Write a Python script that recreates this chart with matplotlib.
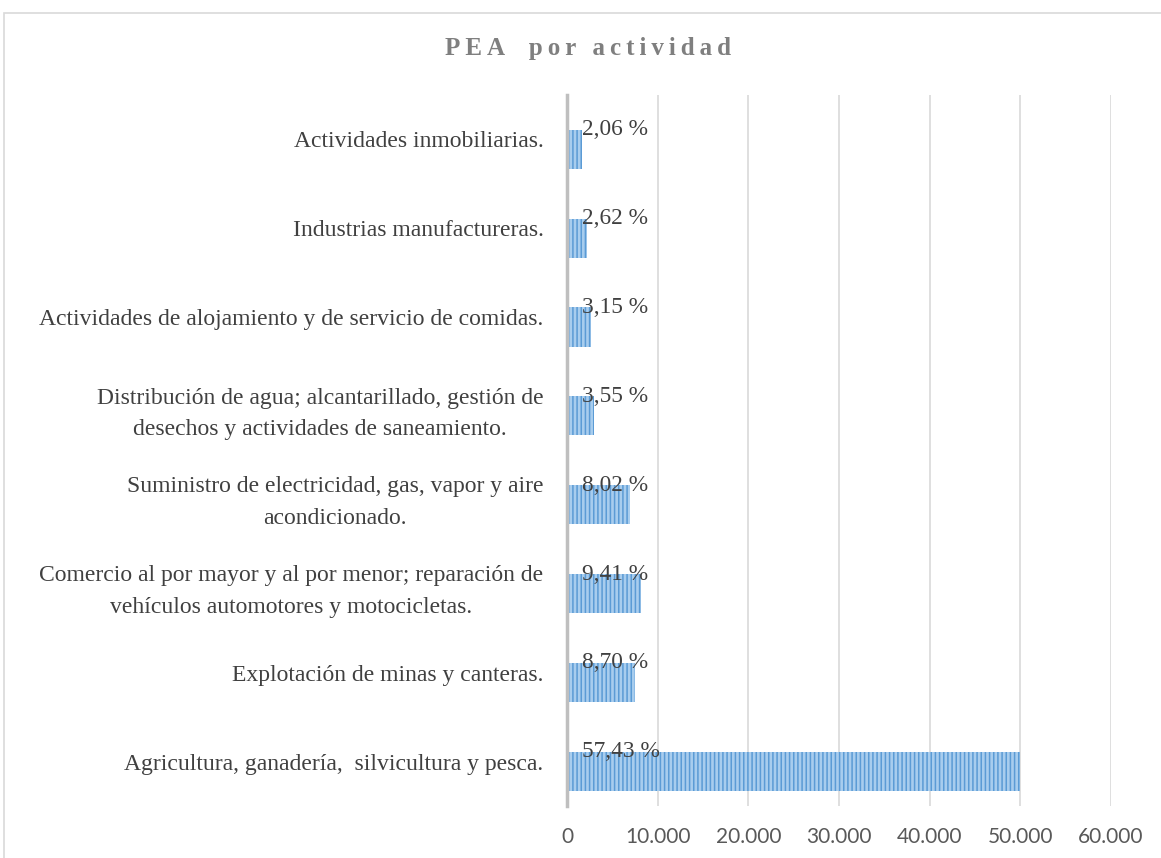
import matplotlib.pyplot as plt
from matplotlib.patches import Rectangle
from matplotlib.ticker import FuncFormatter

# categories bottom -> top
categories = [
    "Agricultura, ganadería,  silvicultura y pesca.",
    "Explotación de minas y canteras.",
    "Comercio al por mayor y al por menor; reparación de\nvehículos automotores y motocicletas.",
    "Suministro de electricidad, gas, vapor y aire\nacondicionado.",
    "Distribución de agua; alcantarillado, gestión de\ndesechos y actividades de saneamiento.",
    "Actividades de alojamiento y de servicio de comidas.",
    "Industrias manufactureras.",
    "Actividades inmobiliarias.",
]
values = [49950, 7450, 8150, 6950, 3000, 2650, 2200, 1700]
pct_labels = ["57,43 %", "8,70 %", "9,41 %", "8,02 %", "3,55 %", "3,15 %", "2,62 %", "2,06 %"]
x_ticks = [0, 10000, 20000, 30000, 40000, 50000, 60000]

plt.rcParams['hatch.linewidth'] = 1.1

fig = plt.figure(figsize=(11.61, 8.58), dpi=100)
ax = fig.add_axes([0.4884, 0.0606, 0.4686, 0.8287])

bar_h = 0.44
shift = -0.11  # bars sit a bit below the category centre, like the excel original
y = list(range(len(categories)))
ax.barh([v + shift for v in y], values, height=bar_h, color='#a8cdee', edgecolor='#5b9bd5',
        linewidth=0, hatch='||||', zorder=3)

for i, lbl in enumerate(pct_labels):
    ax.annotate(lbl, xy=(0, i + shift + bar_h / 2), xytext=(10.5, 0), textcoords='offset points',
                va='center', ha='left', fontsize=16.8, family='Liberation Serif',
                color='#404040', zorder=4)

ax.set_xlim(0, 60000)
ax.set_ylim(-0.5, len(categories) - 0.5)
ax.set_xticks(x_ticks)
ax.xaxis.set_major_formatter(FuncFormatter(lambda v, p: f"{int(v):,}".replace(",", ".")))
ax.set_yticks(y)
ax.set_yticklabels(categories, family='Liberation Serif', fontsize=17, color='#404040',
                   multialignment='center', linespacing=1.65)
ax.tick_params(axis='y', length=0, pad=17)
ax.tick_params(axis='x', length=0, pad=15, labelsize=15, labelcolor='#595959')
for t in ax.get_xticklabels():
    t.set_family('Lato')

ax.grid(axis='x', color='#d9d9d9', linewidth=1.2, zorder=0)
for s in ['top', 'right', 'bottom']:
    ax.spines[s].set_visible(False)
ax.spines['left'].set_color('#bfbfbf')
ax.spines['left'].set_linewidth(2.5)
ax.spines['left'].set_zorder(5)

ts = "\u2009"
title = ts.join("PEA") + ts + "   " + ts.join("por") + ts + " " + ts + ts.join("actividad")
fig.text(0.5065, 0.944, title, ha='center', va='center', fontsize=18, fontweight='bold',
         family=['Liberation Serif', 'DejaVu Serif'], color='#7f7f7f')

fig.patches.append(Rectangle((3.5 / 1161, -0.2), 1.5, 1.2 - 12.5 / 858, transform=fig.transFigure,
                             fill=False, edgecolor='#d9d9d9', linewidth=1.2))

fig.savefig('out.png', dpi=100)
